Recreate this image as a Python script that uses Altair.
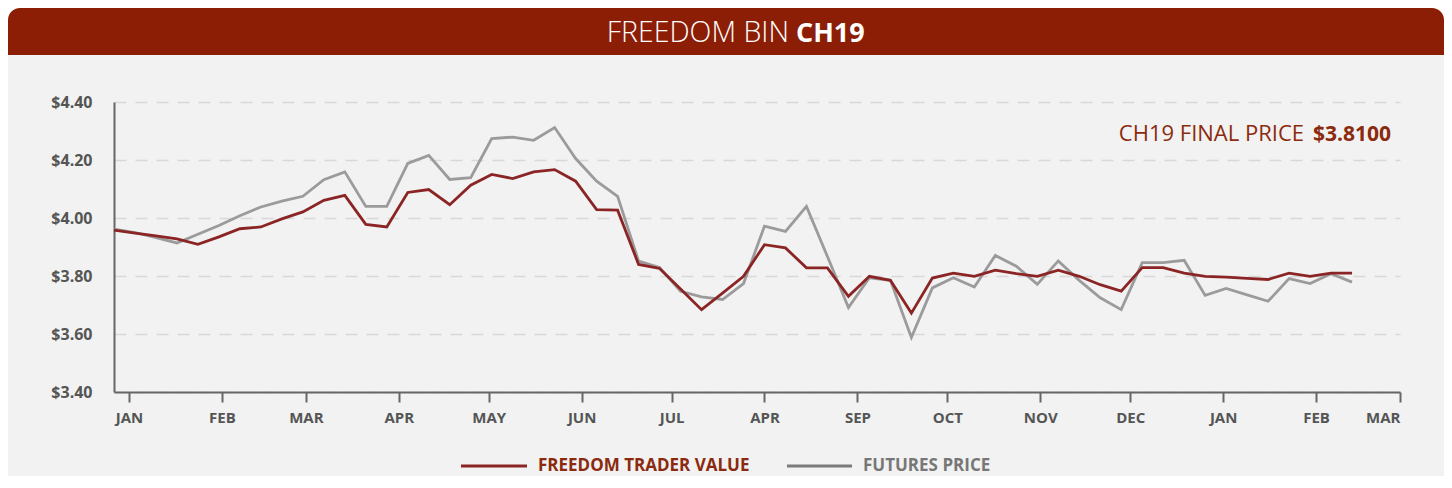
import json
import pandas as pd
import altair as alt

# ---------------- data ----------------
week_starts = pd.date_range("2017-12-27", periods=60, freq="7D").strftime("%Y-%m-%d").tolist()

trader_value = [
    3.958, 3.948, 3.938, 3.928, 3.909, 3.935, 3.963, 3.969, 3.997, 4.021,
    4.061, 4.078, 3.978, 3.969, 4.088, 4.098, 4.046, 4.113, 4.150, 4.136,
    4.159, 4.167, 4.127, 4.029, 4.027, 3.840, 3.826, 3.755, 3.684, 3.741,
    3.799, 3.908, 3.897, 3.828, 3.828, 3.730, 3.799, 3.785, 3.672, 3.793,
    3.810, 3.799, 3.820, 3.808, 3.799, 3.820, 3.799, 3.770, 3.748, 3.829,
    3.829, 3.810, 3.799, 3.796, 3.792, 3.788, 3.810, 3.799, 3.810, 3.810,
]

futures_price = [
    3.962, 3.950, 3.932, 3.914, 3.944, 3.974, 4.008, 4.038, 4.058, 4.075,
    4.132, 4.159, 4.040, 4.040, 4.188, 4.216, 4.133, 4.139, 4.274, 4.279,
    4.268, 4.312, 4.205, 4.127, 4.075, 3.851, 3.829, 3.747, 3.728, 3.719,
    3.774, 3.972, 3.954, 4.040, 3.867, 3.691, 3.794, 3.785, 3.588, 3.759,
    3.794, 3.762, 3.871, 3.834, 3.771, 3.852, 3.785, 3.725, 3.684, 3.846,
    3.846, 3.854, 3.733, 3.757, 3.735, 3.713, 3.791, 3.774, 3.808, 3.779,
]

month_labels = ["JAN", "FEB", "MAR", "APR", "MAY", "JUN", "JUL", "APR",
                "SEP", "OCT", "NOV", "DEC", "JAN", "FEB", "MAR"]
month_ticks = [(2018, m) for m in range(1, 13)] + [(2019, 1), (2019, 2), (2019, 3)]
y_ticks = [3.40, 3.60, 3.80, 4.00, 4.20, 4.40]

title_light = "FREEDOM BIN"
title_bold = "CH19"
note_regular = "CH19 FINAL PRICE"
note_bold = "$3.8100"
legend_names = ["FREEDOM TRADER VALUE", "FUTURES PRICE"]

# ---------------- style ----------------
FONT = "Open Sans"
RED_LINE = "#8B2525"
GRAY_LINE = "#9B9B9B"
BAR_RED = "#8B1E05"
NOTE_RED = "#8B2A0E"
AXIS_TXT = "#555555"
AXIS_LINE = "#666666"
BG = "#F1F2F1"

df = pd.DataFrame({"date": week_starts, "trader": trader_value, "futures": futures_price})
one = pd.DataFrame({"k": [0]})

label_expr = (
    json.dumps(month_labels)
    + "[(utcyear(datum.value) - 2018) * 12 + utcmonth(datum.value)]"
)

x_scale = alt.Scale(
    type="utc",
    domain=[alt.DateTime(year=2017, month=12, date=27, utc=True),
            alt.DateTime(year=2019, month=3, date=1, utc=True)],
    nice=False,
)
x_axis = alt.Axis(
    values=[alt.DateTime(year=y, month=m, date=1, utc=True) for y, m in month_ticks],
    labelExpr=label_expr,
    title=None,
    grid=False,
    domainColor=AXIS_LINE, domainWidth=2,
    tickColor=AXIS_LINE, tickWidth=2, tickSize=10,
    labelFont=FONT, labelFontSize=15, labelFontWeight="bold", labelColor=AXIS_TXT,
    labelPadding=8,
)
y_scale = alt.Scale(domain=[3.4, 4.4], nice=False, zero=False)
y_axis = alt.Axis(
    values=y_ticks, format="$.2f", title=None,
    ticks=False, domainColor=AXIS_LINE, domainWidth=2,
    grid=True, gridColor="#D8D8D8", gridDash=[12, 9], gridWidth=1.5,
    labelFont=FONT, labelFontSize=16, labelFontWeight="bold", labelColor=AXIS_TXT,
    labelPadding=22,
)

futures_line = alt.Chart(df).mark_line(color=GRAY_LINE, strokeWidth=2.8).encode(
    x=alt.X("date:T", scale=x_scale, axis=x_axis),
    y=alt.Y("futures:Q", scale=y_scale, axis=y_axis),
)
trader_line = alt.Chart(df).mark_line(color=RED_LINE, strokeWidth=2.8).encode(
    x=alt.X("date:T", scale=x_scale, axis=x_axis),
    y=alt.Y("trader:Q", scale=y_scale, axis=y_axis),
)

# header bar
header_bg = alt.Chart(one).mark_rect(color="white").encode(
    x=alt.value(-106), x2=alt.value(1330), y=alt.value(-94), y2=alt.value(-47))
header_bar = alt.Chart(one).mark_rect(
    color=BAR_RED, cornerRadiusTopLeft=12, cornerRadiusTopRight=12).encode(
    x=alt.value(-106), x2=alt.value(1330), y=alt.value(-94), y2=alt.value(-47))
header_t1 = alt.Chart(one).mark_text(
    text=title_light, align="right", baseline="alphabetic", font=FONT,
    fontSize=28.5, fontWeight=300, color="white").encode(
    x=alt.value(675), y=alt.value(-60))
header_t2 = alt.Chart(one).mark_text(
    text=title_bold, align="left", baseline="alphabetic", font=FONT,
    fontSize=27, fontWeight="bold", color="white").encode(
    x=alt.value(682), y=alt.value(-60))

# annotation
note1 = alt.Chart(one).mark_text(
    text=note_regular, align="right", baseline="alphabetic", font=FONT,
    fontSize=22, fontWeight="normal", color=NOTE_RED).encode(
    x=alt.value(1190), y=alt.value(39))
note2 = alt.Chart(one).mark_text(
    text=note_bold, align="right", baseline="alphabetic", font=FONT,
    fontSize=21, fontWeight="bold", color=NOTE_RED).encode(
    x=alt.value(1277), y=alt.value(39))

# legend
leg_r_line = alt.Chart(one).mark_rule(color=RED_LINE, strokeWidth=3).encode(
    x=alt.value(347), x2=alt.value(413), y=alt.value(364))
leg_r_txt = alt.Chart(one).mark_text(
    text=legend_names[0], align="left", baseline="middle", font=FONT,
    fontSize=17, fontWeight="bold", color=NOTE_RED).encode(
    x=alt.value(424), y=alt.value(364))
leg_g_line = alt.Chart(one).mark_rule(color="#7A7A7A", strokeWidth=3).encode(
    x=alt.value(673), x2=alt.value(738), y=alt.value(364))
leg_g_txt = alt.Chart(one).mark_text(
    text=legend_names[1], align="left", baseline="middle", font=FONT,
    fontSize=17, fontWeight="bold", color="#777777").encode(
    x=alt.value(749), y=alt.value(364))

chart = alt.layer(
    header_bg, header_bar, header_t1, header_t2,
    futures_line, trader_line,
    note1, note2,
    leg_r_line, leg_r_txt, leg_g_line, leg_g_txt,
).properties(
    width=1286, height=290,
    padding={"left": 106, "top": 94, "right": 44, "bottom": 84},
    autosize=alt.AutoSizeParams(type="none"),
    background=BG,
).configure_view(strokeWidth=0)

chart.save("out.html", embed_options={"renderer": "svg", "actions": False})
